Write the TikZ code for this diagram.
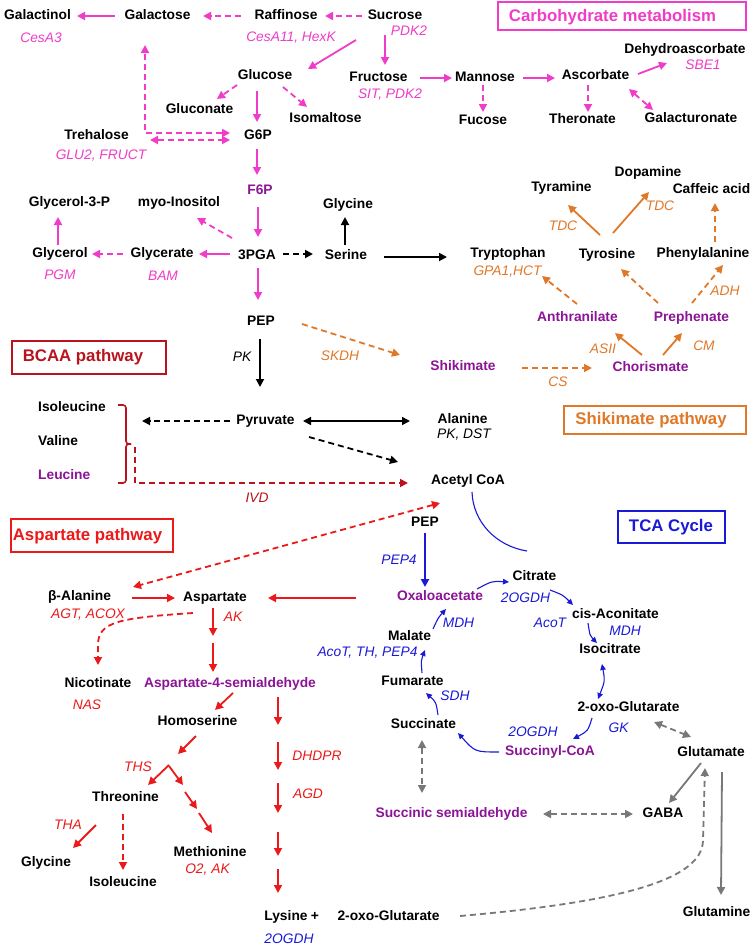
\documentclass[tikz,border=0pt]{standalone}
\usepackage{fontspec}
\setmainfont{Liberation Sans}
\usetikzlibrary{arrows.meta}
\definecolor{pinkc}{RGB}{240,60,200}
\definecolor{purp}{RGB}{140,20,150}
\definecolor{orangec}{RGB}{225,120,40}
\definecolor{darkredc}{RGB}{185,20,30}
\definecolor{redc}{RGB}{235,25,25}
\definecolor{bluec}{RGB}{25,25,215}
\definecolor{grayc}{RGB}{120,120,120}
\newcommand\metfont{\fontsize{13.8}{16}\selectfont\bfseries}
\newcommand\enzfont{\fontsize{13.8}{16}\selectfont\itshape}
\newcommand\ttlfont{\fontsize{16.8}{20}\selectfont\bfseries}
\begin{document}
\begin{tikzpicture}[x=1pt,y=-1pt,
 met/.style={font=\metfont, inner sep=1pt, text height=10pt, text depth=3pt},
 enz/.style={font=\enzfont, inner sep=1pt, text height=10pt, text depth=3pt},
 ttl/.style={font=\ttlfont, inner sep=1pt},
 tbox/.style={draw, line width=1.3pt, inner sep=0pt},
 arr/.style={-{Triangle[length=8pt,width=8pt]}, line width=1.8pt},
 darr/.style={{Triangle[length=8pt,width=8pt]}-{Triangle[length=8pt,width=8pt]}, line width=1.8pt},
 dsh/.style={dash pattern=on 6pt off 4pt},
 barr/.style={-{Triangle[length=6pt,width=5.5pt]}, line width=1.1pt, bluec},
 bdarr/.style={{Triangle[length=6pt,width=5.5pt]}-{Triangle[length=6pt,width=5.5pt]}, line width=1.1pt, bluec}]
\fill[white] (0,0) rectangle (752,946);
\useasboundingbox (0,0) rectangle (752,946);

% ---------- Carbohydrate metabolism ----------
\node[tbox, draw=pinkc, minimum width=248pt, minimum height=28pt] (carbbox) at (622,16) {};
\node[ttl, text=pinkc] (carbttl) at (612.5,17) {Carbohydrate metabolism};
\node[met] (galactinol) at (37.5,16) {Galactinol};
\node[met] (galactose) at (157.5,16) {Galactose};
\node[met] (raffinose) at (286,16) {Raffinose};
\node[met] (sucrose) at (395,16) {Sucrose};
\node[enz, pinkc] (cesa3) at (41,39) {CesA3};
\node[enz, pinkc] (cesa11) at (291,38) {CesA11, HexK};
\node[enz, pinkc] (pdk2a) at (409,32) {PDK2};
\node[met] (glucose) at (265,76) {Glucose};
\node[met] (fructose) at (378.5,78) {Fructose};
\node[enz, pinkc] (sitpdk) at (390,95) {SIT, PDK2};
\node[met] (mannose) at (485,78) {Mannose};
\node[met] (ascorbate) at (595.5,76) {Ascorbate};
\node[met] (dehydro) at (685,50) {Dehydroascorbate};
\node[enz, pinkc] (sbe1) at (703,66) {SBE1};
\node[met] (gluconate) at (199.5,110) {Gluconate};
\node[met] (isomaltose) at (325.5,119) {Isomaltose};
\node[met] (fucose) at (483,121) {Fucose};
\node[met] (theronate) at (582.5,120) {Theronate};
\node[met] (galacturonate) at (691,119) {Galacturonate};
\node[met] (trehalose) at (96.5,136) {Trehalose};
\node[enz, pinkc] (glu2) at (101,156) {GLU2, FRUCT};
\node[met] (g6p) at (258,136) {G6P};
\node[met, purp] (f6p) at (260,191) {F6P};

\node[met] (glycerolp) at (69.5,203) {Glycerol-3-P};
\node[met] (myo) at (179,203) {myo-Inositol};
\node[met] (glycineA) at (348,205) {Glycine};
\node[met] (glycerol) at (60,254) {Glycerol};
\node[met] (glycerate) at (162,254) {Glycerate};
\node[met] (pga) at (257,256) {3PGA};
\node[met] (serine) at (346,256) {Serine};
\node[enz, pinkc] (pgm) at (60,276) {PGM};
\node[enz, pinkc] (bam) at (163,277) {BAM};
\node[met] (pep) at (261,322) {PEP};
\node[enz] (pk) at (242,358) {PK};

% pink arrows
\draw[arr, pinkc] ([shift={(-42.5,0)}]galactose.center) -- ([shift={(39.5,0)}]galactinol.center);
\draw[arr, pinkc, dsh] ([shift={(-45,0)}]raffinose.center) -- ([shift={(45.5,0)}]galactose.center);
\draw[arr, pinkc, dsh] ([shift={(-33,0)}]sucrose.center) -- ([shift={(39,0)}]raffinose.center);
\draw[arr, pinkc] ([shift={(-39,24)}]sucrose.center) -- ([shift={(43,-7)}]glucose.center);
\draw[arr, pinkc] ([shift={(-10,19)}]sucrose.center) -- ([shift={(6.5,-13)}]fructose.center);
\draw[arr, pinkc, dsh] ([shift={(-28,9)}]glucose.center) -- ([shift={(17.5,-11)}]gluconate.center);
\draw[arr, pinkc] ([shift={(-8,15)}]glucose.center) -- ([shift={(-1,-14)}]g6p.center);
\draw[arr, pinkc, dsh] ([shift={(18,11)}]glucose.center) -- ([shift={(-18.5,-12)}]isomaltose.center);
\draw[darr, pinkc, dsh] ([shift={(-28,-3)}]g6p.center) -| ([shift={(-12.5,29)}]galactose.center);
\draw[darr, pinkc, dsh] ([shift={(53.5,4)}]trehalose.center) -- ([shift={(-28,4)}]g6p.center);
\draw[arr, pinkc] ([shift={(-1,13)}]g6p.center) -- ([shift={(-3,-16)}]f6p.center);
\draw[arr, pinkc] ([shift={(-2,16)}]f6p.center) -- ([shift={(1,-19)}]pga.center);
\draw[arr, pinkc, dsh] ([shift={(-25,-18)}]pga.center) -- ([shift={(18,15)}]myo.center);
\draw[arr, pinkc] ([shift={(-27,-2)}]pga.center) -- ([shift={(37,0)}]glycerate.center);
\draw[arr, pinkc, dsh] ([shift={(-39,0)}]glycerate.center) -- ([shift={(32,0)}]glycerol.center);
\draw[arr, pinkc] ([shift={(-2,-9)}]glycerol.center) -- ([shift={(-11.5,14)}]glycerolp.center);
\draw[arr, pinkc] ([shift={(1,12)}]pga.center) -- ([shift={(-3,-22)}]pep.center);
\draw[arr, pinkc] ([shift={(41.5,0)}]fructose.center) -- ([shift={(-33,0)}]mannose.center);
\draw[arr, pinkc, dsh] ([shift={(-2,7)}]mannose.center) -- ([shift={(0,-9)}]fucose.center);
\draw[arr, pinkc] ([shift={(38,0)}]mannose.center) -- ([shift={(-40.5,2)}]ascorbate.center);
\draw[arr, pinkc, dsh] ([shift={(-7.5,9)}]ascorbate.center) -- ([shift={(5.5,-8)}]theronate.center);
\draw[darr, pinkc, dsh] ([shift={(33.5,13)}]ascorbate.center) -- ([shift={(-38,-9)}]galacturonate.center);
\draw[arr, pinkc] ([shift={(42.5,-2)}]ascorbate.center) -- ([shift={(-18,13)}]dehydro.center);

% black
\draw[arr, dsh] ([shift={(26,-2)}]pga.center) -- ([shift={(-33,-2)}]serine.center);
\draw[arr] ([shift={(-1,-11)}]serine.center) -- ([shift={(-3,12)}]glycineA.center);

% ---------- Shikimate ----------
\node[met] (tyramine) at (561.5,188) {Tyramine};
\node[met] (dopamine) at (648,173) {Dopamine};
\node[met] (caffeic) at (711.5,190) {Caffeic acid};
\node[met] (tryptophan) at (508,254) {Tryptophan};
\node[met] (tyrosine) at (607,255) {Tyrosine};
\node[met] (phe) at (703,254) {Phenylalanine};
\node[enz, orangec] (gpa1) at (507.5,272) {GPA1,HCT};
\node[enz, orangec] (tdc1) at (563,227) {TDC};
\node[enz, orangec] (tdc2) at (660,207) {TDC};
\node[enz, orangec] (adh) at (725,292) {ADH};
\node[met, purp] (anthr) at (577.5,318) {Anthranilate};
\node[met, purp] (preph) at (691.5,318) {Prephenate};
\node[enz, orangec] (asii) at (603,350) {ASII};
\node[enz, orangec] (cm) at (704,347) {CM};
\node[met, purp] (shikimate) at (463,367) {Shikimate};
\node[met, purp] (chorismate) at (650.5,368) {Chorismate};
\node[enz, orangec] (cs) at (558,383) {CS};
\node[enz, orangec] (skdh) at (340,357) {SKDH};
\node[tbox, draw=orangec, minimum width=182pt, minimum height=28pt] (shikbox) at (655,420) {};
\node[ttl, text=orangec] (shikttl) at (651,420) {Shikimate pathway};

\draw[arr] ([shift={(38,1)}]serine.center) -- ([shift={(-61,3)}]tryptophan.center);
\draw[arr, orangec, dsh] ([shift={(41,2)}]pep.center) -- ([shift={(-63,-12)}]shikimate.center);
\draw[arr, orangec, dsh] ([shift={(59,1)}]shikimate.center) -- ([shift={(-58.5,0)}]chorismate.center);
\draw[arr, orangec] ([shift={(-8.5,-13)}]chorismate.center) -- ([shift={(37.5,15)}]anthr.center);
\draw[arr, orangec] ([shift={(12.5,-13)}]chorismate.center) -- ([shift={(-9.5,15)}]preph.center);
\draw[arr, orangec, dsh] ([shift={(-0.5,-14)}]anthr.center) -- ([shift={(34,22)}]tryptophan.center);
\draw[arr, orangec, dsh] ([shift={(-33.5,-15)}]preph.center) -- ([shift={(14,14)}]tyrosine.center);
\draw[arr, orangec, dsh] ([shift={(0.5,-15)}]preph.center) -- ([shift={(20,11)}]phe.center);
\draw[arr, orangec] ([shift={(-7,-20)}]tyrosine.center) -- ([shift={(6.5,17)}]tyramine.center);
\draw[arr, orangec] ([shift={(6,-22)}]tyrosine.center) -- ([shift={(1,19)}]dopamine.center);
\draw[arr, orangec, dsh] ([shift={(12,-12)}]phe.center) -- ([shift={(3.5,13)}]caffeic.center);

% ---------- BCAA ----------
\node[tbox, draw=darkredc, minimum width=154pt, minimum height=33pt] (bcaabox) at (89,357.5) {};
\node[ttl, text=darkredc] (bcaattl) at (83,357) {BCAA pathway};
\node[met, anchor=west] (ileA) at (37,408) {Isoleucine};
\node[met, anchor=west] (valine) at (37,442) {Valine};
\node[met, anchor=west, purp] (leucine) at (37,476) {Leucine};
\node[met] (pyruvate) at (265.5,421) {Pyruvate};
\node[met] (alanine) at (462.5,420) {Alanine};
\node[enz] (pkdst) at (464,435) {PK, DST};
\node[met] (acetyl) at (468,481) {Acetyl CoA};
\node[enz, darkredc] (ivd) at (257,499) {IVD};
\coordinate (bcaaend) at (142,421);
\coordinate (brtip) at (135,447);

\draw[darkredc, line width=1.6pt, rounded corners=3pt] (118,405) -- (126,405) -- (126,444) -- (131,444);
\draw[darkredc, line width=1.6pt, rounded corners=3pt] (131,444) -- (126,444) -- (126,483) -- (118,483);
\draw[arr, darkredc, dsh] (brtip) |- ([shift={(-60,2)}]acetyl.center);
\draw[arr] ([shift={(-1,17)}]pep.center) -- ([shift={(-5.5,-34)}]pyruvate.center);
\draw[arr, dsh] ([shift={(-35.5,0)}]pyruvate.center) -- (bcaaend);
\draw[darr, line width=1.6pt] ([shift={(37.5,0)}]pyruvate.center) -- ([shift={(-52.5,1)}]alanine.center);
\draw[arr, dsh] ([shift={(43.5,16)}]pyruvate.center) -- ([shift={(-70,-19)}]acetyl.center);

% ---------- Aspartate ----------
\node[tbox, draw=redc, minimum width=162pt, minimum height=33pt] (aspbox) at (92,535.5) {};
\node[ttl, text=redc] (aspttl) at (87.5,536) {Aspartate pathway};
\node[met] (betaala) at (79.5,597) {β-Alanine};
\node[met] (aspartate) at (215,598) {Aspartate};
\node[enz, redc] (agt) at (88,615) {AGT, ACOX};
\node[enz, redc] (ak) at (233,618) {AK};
\node[met] (nicotinate) at (98,684) {Nicotinate};
\node[met, purp] (asa) at (230,684) {Aspartate-4-semialdehyde};
\node[enz, redc] (nas) at (87,706) {NAS};
\node[met] (homoserine) at (197.5,722) {Homoserine};
\node[enz, redc] (dhdpr) at (317,757) {DHDPR};
\node[enz, redc] (ths) at (138,768) {THS};
\node[enz, redc] (agd) at (308,795) {AGD};
\node[met] (threonine) at (125.5,798) {Threonine};
\node[enz, redc] (tha) at (68,826) {THA};
\node[met] (methionine) at (210,853) {Methionine};
\node[met] (glycineB) at (46,863) {Glycine};
\node[enz, redc] (o2ak) at (207.5,870) {O2, AK};
\node[met] (ileB) at (123,883) {Isoleucine};
\node[met] (lysine) at (286,917) {Lysine};
\node[met] (plus) at (315,917) {+};
\node[met] (oxoB) at (388.5,917) {2-oxo-Glutarate};
\node[enz, bluec] (ogdhC) at (289,940) {2OGDH};

\draw[darr, redc, dsh] ([shift={(-28,22)}]acetyl.center) -- ([shift={(53.5,-10)}]betaala.center);
\draw[arr, redc] ([shift={(52.5,1)}]betaala.center) -- ([shift={(-40,0)}]aspartate.center);
\draw[arr, redc, dsh] ([shift={(-22,15)}]aspartate.center) .. controls (118,618) and (98,622) .. (98,645) -- ([shift={(0,-19)}]nicotinate.center);
\draw[arr, redc] ([shift={(-2,10)}]aspartate.center) -- ([shift={(-2,38)}]aspartate.center);
\draw[arr, redc] ([shift={(-17,-41)}]asa.center) -- ([shift={(-17,-12)}]asa.center);
\draw[arr, redc] ([shift={(3,9)}]asa.center) -- ([shift={(17.5,-12)}]homoserine.center);
\draw[arr, redc] ([shift={(48,13)}]asa.center) -- ([shift={(-8,-192)}]lysine.center);
\draw[arr, redc] ([shift={(-8,-175)}]lysine.center) -- ([shift={(-8,-147)}]lysine.center);
\draw[arr, redc] ([shift={(-8,-134)}]lysine.center) -- ([shift={(-8,-104)}]lysine.center);
\draw[arr, redc] ([shift={(-8,-85)}]lysine.center) -- ([shift={(-8,-61)}]lysine.center);
\draw[arr, redc] ([shift={(-8,-48)}]lysine.center) -- ([shift={(-8,-24)}]lysine.center);
\draw[arr, redc] ([shift={(-1.5,14)}]homoserine.center) -- ([shift={(52.5,-44)}]threonine.center);
\draw[arr, redc] ([shift={(43.5,-33)}]threonine.center) -- ([shift={(22.5,-13)}]threonine.center);
\draw[arr, redc] ([shift={(-41,-87)}]methionine.center) -- ([shift={(-27,-68)}]methionine.center);
\draw[arr, redc] ([shift={(-25,-61)}]methionine.center) -- ([shift={(-13,-44)}]methionine.center);
\draw[arr, redc] ([shift={(-11,-40)}]methionine.center) -- ([shift={(2,-20)}]methionine.center);
\draw[arr, redc] ([shift={(-29.5,27)}]threonine.center) -- ([shift={(27,-15)}]glycineB.center);
\draw[arr, redc, dsh] ([shift={(-2.5,16)}]threonine.center) -- ([shift={(0,-13)}]ileB.center);

% ---------- TCA ----------
\node[tbox, draw=bluec, minimum width=107pt, minimum height=32pt] (tcabox) at (671.5,527) {};
\node[ttl, text=bluec] (tcattl) at (671,527) {TCA Cycle};
\node[met] (pepB) at (425,523) {PEP};
\node[enz, bluec] (pep4) at (399,561) {PEP4};
\node[met] (citrate) at (534.5,577) {Citrate};
\node[met, purp] (oxalo) at (440,597) {Oxaloacetate};
\node[enz, bluec] (ogdhA) at (525.5,599) {2OGDH};
\node[met] (cisacon) at (615.5,615) {cis-Aconitate};
\node[enz, bluec] (acot) at (550,624) {AcoT};
\node[enz, bluec] (mdhB) at (625,632) {MDH};
\node[met] (malate) at (409.5,637) {Malate};
\node[enz, bluec] (mdhA) at (458.5,624) {MDH};
\node[met] (isocitrate) at (610,650) {Isocitrate};
\node[enz, bluec] (acotth) at (367.5,653) {AcoT, TH, PEP4};
\node[met] (fumarate) at (412.5,682) {Fumarate};
\node[enz, bluec] (sdh) at (455,697) {SDH};
\node[met] (oxoA) at (628.5,708) {2-oxo-Glutarate};
\node[met] (succinate) at (423.5,725) {Succinate};
\node[enz, bluec] (gk) at (618.5,729) {GK};
\node[enz, bluec] (ogdhB) at (533,733) {2OGDH};
\node[met, purp] (succoa) at (550,752) {Succinyl-CoA};
\node[met] (glutamate) at (711,753) {Glutamate};
\node[met, purp] (ssa) at (451.5,814) {Succinic semialdehyde};
\node[met] (gaba) at (663,814) {GABA};
\node[met] (glutamine) at (716.5,913) {Glutamine};

\draw[arr, redc] ([shift={(-84,1)}]oxalo.center) -- ([shift={(53,0)}]aspartate.center);
\draw[bluec, line width=1.1pt] ([shift={(4,11)}]acetyl.center) .. controls (473,522) and (496,546) .. ([shift={(-7.5,-26)}]citrate.center);
\draw[arr, bluec, line width=2pt] ([shift={(0,10)}]pepB.center) -- ([shift={(-15,-10)}]oxalo.center);
\draw[barr] ([shift={(37,-8)}]oxalo.center) .. controls (492,581) .. ([shift={(-25.5,5)}]citrate.center);
\draw[barr] ([shift={(15.5,13)}]citrate.center) .. controls (563,595) .. ([shift={(-42.5,-10)}]cisacon.center);
\draw[barr] ([shift={(-27.5,8)}]cisacon.center) .. controls (590,636) .. ([shift={(-13,-7)}]isocitrate.center);
\draw[bdarr] ([shift={(-8,14)}]isocitrate.center) .. controls (605,681) .. ([shift={(-30.5,-9)}]oxoA.center);
\draw[barr] ([shift={(-36.5,10)}]oxoA.center) .. controls (588,731) .. ([shift={(23,-13)}]succoa.center);
\draw[barr] ([shift={(-51,0)}]succoa.center) .. controls (475,752) .. ([shift={(34.5,8)}]succinate.center);
\draw[barr] ([shift={(14.5,-10)}]succinate.center) .. controls (436,702) .. ([shift={(13.5,11)}]fumarate.center);
\draw[barr] ([shift={(9.5,-9)}]fumarate.center) .. controls (421,660) .. ([shift={(15.5,13)}]malate.center);
\draw[barr] ([shift={(23.5,-8)}]malate.center) .. controls (438,618) .. ([shift={(6,12)}]oxalo.center);

% gray
\draw[darr, grayc, dsh] ([shift={(25.5,14)}]oxoA.center) -- ([shift={(-20,-16)}]glutamate.center);
\draw[darr, grayc, dsh] ([shift={(-1.5,15)}]succinate.center) -- ([shift={(-29.5,-21)}]ssa.center);
\draw[darr, grayc, dsh] ([shift={(91.5,0)}]ssa.center) -- ([shift={(-30,0)}]gaba.center);
\draw[arr, grayc] ([shift={(-10,10)}]glutamate.center) -- ([shift={(6,-11)}]gaba.center);
\draw[arr, grayc, dsh] ([shift={(71.5,-1)}]oxoB.center) .. controls (620,902) and (703,880) .. (703,840) -- ([shift={(-6,15)}]glutamate.center);
\draw[arr, grayc] ([shift={(11,19)}]glutamate.center) -- ([shift={(4.5,-18)}]glutamine.center);
\end{tikzpicture}
\end{document}
